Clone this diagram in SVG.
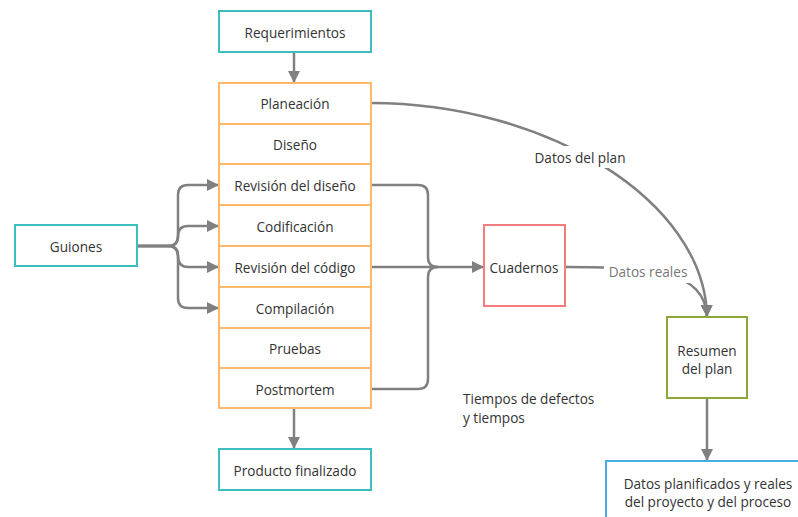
<svg xmlns="http://www.w3.org/2000/svg" width="798" height="517" viewBox="0 0 798 517">
<defs>
<marker id="arr" markerUnits="userSpaceOnUse" markerWidth="14" markerHeight="14" refX="12" refY="7" orient="auto">
<path d="M0,1 L12,7 L0,13 z" fill="#808080"/>
</marker>
<style>
.t{font-family:"Open Sans","Noto Sans",sans-serif;font-size:13.6px;fill:#333;text-anchor:middle;dominant-baseline:central}
.tl{font-family:"Open Sans","Noto Sans",sans-serif;font-size:13.6px;fill:#333;dominant-baseline:central}
.teal{fill:#fff;stroke:#3dbdbd;stroke-width:2}
.org{fill:#fff;stroke:#ffb86c;stroke-width:2}
.c{fill:none;stroke:#808080;stroke-width:2.5}
.ca{fill:none;stroke:#808080;stroke-width:2.5;marker-end:url(#arr)}
</style>
</defs>
<rect width="798" height="517" fill="#fff"/>
<g id="connectors">
<path class="ca" d="M294,52 V83"/>
<path class="ca" d="M294,408 V449"/>
<path class="ca" d="M137,246 H168 Q178,246 178,236 V195 Q178,185 188,185 H219"/>
<path class="ca" d="M137,246 H168 Q178,246 178,236 Q178,226 188,226 H219"/>
<path class="ca" d="M137,246 H168 Q178,246 178,256 Q178,267 188,267 H219"/>
<path class="ca" d="M137,246 H168 Q178,246 178,256 V298 Q178,308 188,308 H219"/>
<path class="c" d="M371,185 H418 Q428,185 428,195 V257 Q428,267 438,267"/>
<path class="c" d="M371,389 H418 Q428,389 428,379 V277 Q428,267 438,267"/>
<path class="ca" d="M371,267 H484"/>
<path class="ca" d="M371,103 C545,103 705,200 707,317"/>
<path class="ca" d="M565,267 C650,267 705,270 707,317"/>
<path class="ca" d="M707,398 V461"/>
<rect x="525" y="146" width="110" height="22" fill="#fff"/>
<text class="t" x="580" y="157">Datos del plan</text>
<rect x="604" y="259" width="88" height="24" fill="#fff"/>
<text class="t" x="648" y="271" style="fill:#777">Datos reales</text>
</g>
<g id="requerimientos"><rect class="teal" x="219" y="11" width="152" height="41"/><text class="t" x="295" y="32">Requerimientos</text></g>
<g id="planeacion"><rect class="org" x="219" y="83" width="152" height="41"/><text class="t" x="295" y="103">Planeación</text></g>
<g id="diseno"><rect class="org" x="219" y="124" width="152" height="40"/><text class="t" x="295" y="144">Diseño</text></g>
<g id="revision-diseno"><rect class="org" x="219" y="164" width="152" height="41"/><text class="t" x="295" y="185">Revisión del diseño</text></g>
<g id="codificacion"><rect class="org" x="219" y="205" width="152" height="41"/><text class="t" x="295" y="226">Codificación</text></g>
<g id="revision-codigo"><rect class="org" x="219" y="246" width="152" height="41"/><text class="t" x="295" y="267">Revisión del código</text></g>
<g id="compilacion"><rect class="org" x="219" y="287" width="152" height="41"/><text class="t" x="295" y="308">Compilación</text></g>
<g id="pruebas"><rect class="org" x="219" y="328" width="152" height="40"/><text class="t" x="295" y="348">Pruebas</text></g>
<g id="postmortem"><rect class="org" x="219" y="368" width="152" height="40"/><text class="t" x="295" y="389">Postmortem</text></g>
<g id="producto"><rect class="teal" x="219" y="449" width="152" height="41"/><text class="t" x="295" y="470">Producto finalizado</text></g>
<g id="guiones"><rect class="teal" x="15" y="225" width="122" height="41"/><text class="t" x="76" y="246">Guiones</text></g>
<g id="cuadernos"><rect x="484" y="225" width="81" height="81" fill="#fff" stroke="#f47c7c" stroke-width="2"/><text class="t" x="524" y="267">Cuadernos</text></g>
<g id="resumen"><rect x="667" y="317" width="80" height="81" fill="#fff" stroke="#8da83a" stroke-width="2"/><text class="t" x="707" y="350">Resumen</text><text class="t" x="707" y="368">del plan</text></g>
<g id="datos-planificados"><rect x="606" y="461" width="210" height="70" fill="#fff" stroke="#45b0e0" stroke-width="2"/><text class="t" x="708" y="483">Datos planificados y reales</text><text class="t" x="708" y="501">del proyecto y del proceso</text></g>
<g id="tiempos"><text class="tl" x="463" y="398">Tiempos de defectos</text><text class="tl" x="463" y="417">y tiempos</text></g>
</svg>
